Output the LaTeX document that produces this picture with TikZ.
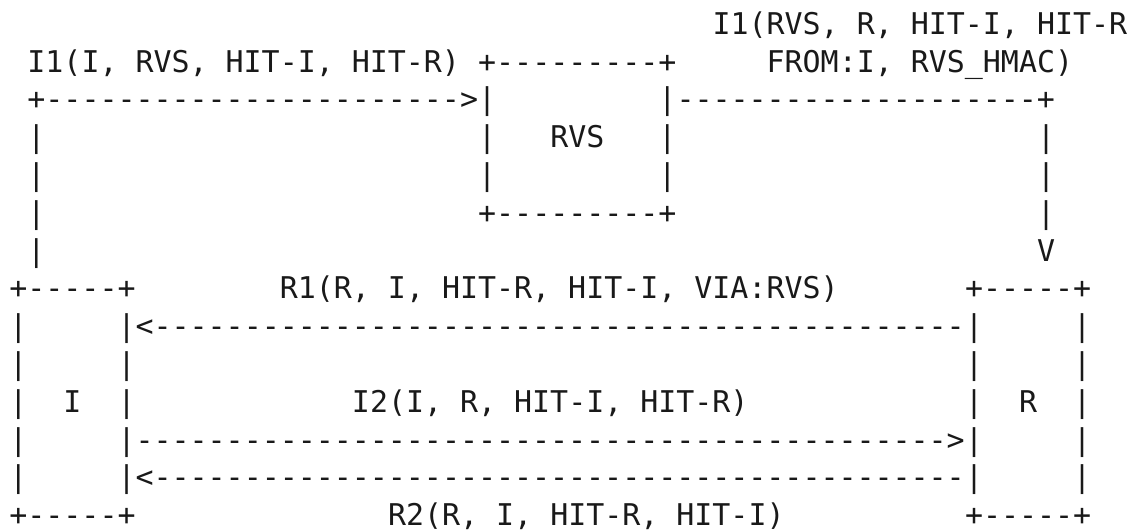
\documentclass[tikz,border=0pt]{standalone}
\usepackage{fontspec}
\setmonofont{DejaVu Sans Mono}
% a run of n dashes, one glyph per column
\newcommand{\rul}[1]{\foreach \k in {1,...,#1}{-}}
\begin{document}
\frenchspacing
\begin{tikzpicture}[x=9.015pt,y=18.9pt,
    chars/.style={font=\ttfamily\fontsize{14.97}{18}\selectfont,inner sep=0pt,
                  anchor=base west,text=black!90}]
  \useasboundingbox (-4.5pt,17.1pt) rectangle (564.5pt,-247.9pt);
  % RVS box and the two I1 legs (one column = one unit, one row = one unit)
  \node[chars] (msgIrvs) at (39,0) {I1(RVS, R, HIT-I, HIT-R};
  \node[chars] (msgIi)   at (1,-1) {I1(I, RVS, HIT-I, HIT-R)};
  \node[chars] (rvsTop)  at (26,-1) {+\rul{9}+};
  \node[chars] (msgFrom) at (42,-1) {FROM:I, RVS\_HMAC)};
  \node[chars] (legIn)   at (1,-2) {+\rul{23}>|};
  \node[chars] (legOut)  at (36,-2) {|\rul{20}+};
  \foreach \r in {3,4}{
    \node[chars] (rvsL\r) at (26,-\r) {|};
    \node[chars] (rvsR\r) at (36,-\r) {|};
  }
  \node[chars] (rvs)     at (30,-3) {RVS};
  \node[chars] (rvsBot)  at (26,-5) {+\rul{9}+};
  \foreach \r in {3,...,6}
    \node[chars] (legL\r) at (1,-\r) {|};
  \foreach \r in {3,...,5}
    \node[chars] (legR\r) at (57,-\r) {|};
  \node[chars] (legTip)  at (57,-6) {V};
  % I and R boxes with the exchange between them
  \node[chars] (iTop)    at (0,-7) {+\rul{5}+};
  \node[chars] (msgRone) at (15,-7) {R1(R, I, HIT-R, HIT-I, VIA:RVS)};
  \node[chars] (rTop)    at (53,-7) {+\rul{5}+};
  \foreach \r in {8,...,12}
    \foreach \c/\side in {0/iL,6/iR,53/rL,59/rR}
      \node[chars] (\side\r) at (\c,-\r) {|};
  \node[chars] (arrRone) at (7,-8) {<\rul{45}};
  \node[chars] (hostI)   at (3,-10) {I};
  \node[chars] (msgItwo) at (19,-10) {I2(I, R, HIT-I, HIT-R)};
  \node[chars] (hostR)   at (56,-10) {R};
  \node[chars] (arrItwo) at (7,-11) {\rul{45}>};
  \node[chars] (arrRtwo) at (7,-12) {<\rul{45}};
  \node[chars] (iBot)    at (0,-13) {+\rul{5}+};
  \node[chars] (msgRtwo) at (21,-13) {R2(R, I, HIT-R, HIT-I)};
  \node[chars] (rBot)    at (53,-13) {+\rul{5}+};
\end{tikzpicture}
\end{document}
